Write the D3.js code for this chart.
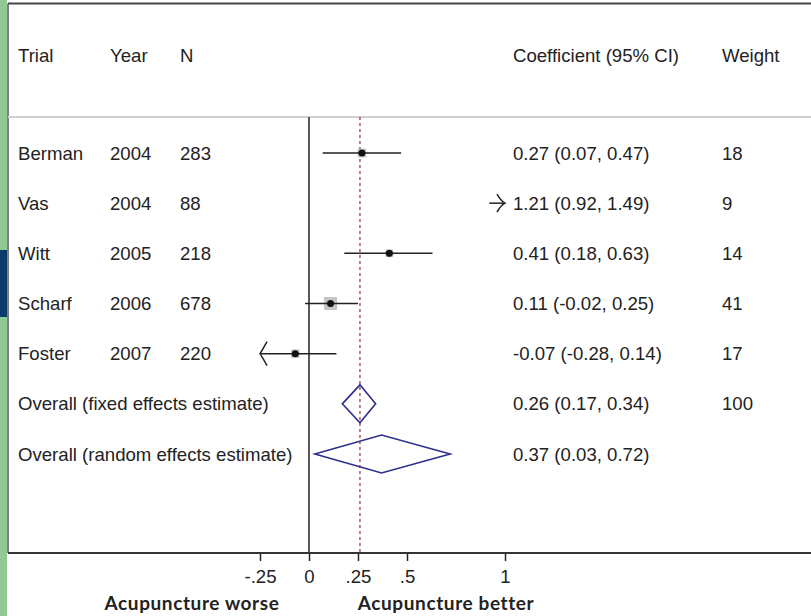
<!DOCTYPE html>
<html>
<head>
<meta charset="utf-8">
<script src="https://cdn.jsdelivr.net/npm/d3@7"></script>
<style>
  html, body { margin: 0; padding: 0; background: #fff; }
  svg { display: block; }
  text { font-family: "Liberation Sans", Arial, sans-serif; fill: #222; }
</style>
</head>
<body>
<div id="chart"></div>
<script>
// study rows
var trials  = ["Berman", "Vas", "Witt", "Scharf", "Foster"];
var years   = [2004, 2004, 2005, 2006, 2007];
var sizes   = [283, 88, 218, 678, 220];
var coef    = [0.27, 1.21, 0.41, 0.11, -0.07];
var lower   = [0.07, 0.92, 0.18, -0.02, -0.28];
var upper   = [0.47, 1.49, 0.63, 0.25, 0.14];
var weights = [18, 9, 14, 41, 17];

// pooled rows
var overallLabels = ["Overall (fixed effects estimate)", "Overall (random effects estimate)"];
var overallCoef   = [0.26, 0.37];
var overallLower  = [0.17, 0.03];
var overallUpper  = [0.34, 0.72];
var overallWeight = ["100", ""];

var headers = ["Trial", "Year", "N", "Coefficient (95% CI)", "Weight"];
var xTicks = [-0.25, 0, 0.25, 0.5, 1];
var clipRange = [-0.25, 1];
var sideLabels = ["Acupuncture worse", "Acupuncture better"];

var width = 811, height = 616;
var fs = "18.6px";

var svg = d3.select("#chart").append("svg")
  .attr("width", width)
  .attr("height", height);

// slide decoration on the left
svg.append("rect").attr("x", 0).attr("y", 0).attr("width", 7).attr("height", height).attr("fill", "#92c893");
svg.append("rect").attr("x", 0).attr("y", 250).attr("width", 7).attr("height", 67).attr("fill", "#0b3a6c");

var x = d3.scaleLinear().domain([0, 1]).range([309, 505]);
var rowIds = d3.range(trials.length + overallLabels.length);
var y = d3.scalePoint().domain(rowIds).range([153, 454]);
var boxSide = d3.scaleSqrt().domain([0, 41]).range([0, 13]);

var axisY = 553, headLineY = 117, topY = 3.5, leftX = 8;

function f2(v) { return v.toFixed(2); }
function ciText(d) { return f2(d.est) + " (" + f2(d.lo) + ", " + f2(d.hi) + ")"; }

// frame
svg.append("line").attr("x1", leftX).attr("x2", width).attr("y1", topY).attr("y2", topY)
  .attr("stroke", "#444").attr("stroke-width", 2);
svg.append("line").attr("x1", leftX).attr("x2", leftX).attr("y1", topY).attr("y2", axisY)
  .attr("stroke", "#555").attr("stroke-width", 1.5);
svg.append("line").attr("x1", leftX).attr("x2", width).attr("y1", headLineY).attr("y2", headLineY)
  .attr("stroke", "#d0d0d0").attr("stroke-width", 2);

// header text
var headX = [18, 110, 180, 513, 722];
svg.selectAll("text.head").data(headers).enter().append("text")
  .attr("class", "head")
  .attr("x", function(d, i) { return headX[i]; })
  .attr("y", 55)
  .attr("dy", "0.35em")
  .style("font-size", fs)
  .text(function(d) { return d; });

// null line and pooled estimate line
svg.append("line").attr("x1", x(0)).attr("x2", x(0)).attr("y1", headLineY).attr("y2", axisY)
  .attr("stroke", "#222").attr("stroke-width", 1.5);
svg.append("line").attr("x1", x(overallCoef[0])).attr("x2", x(overallCoef[0]))
  .attr("y1", headLineY).attr("y2", axisY)
  .attr("stroke", "#9a2a2a").attr("stroke-width", 1.2).attr("stroke-dasharray", "3,3");

// x axis
var xAxis = d3.axisBottom(x)
  .tickValues(xTicks)
  .tickSize(8)
  .tickFormat(function(d) { return String(d).replace("0.", "."); });

var gAxis = svg.append("g").attr("transform", "translate(0," + axisY + ")").call(xAxis);
gAxis.select(".domain").remove();
gAxis.selectAll(".tick line").attr("stroke", "#222").attr("stroke-width", 1.5);
gAxis.selectAll(".tick text")
  .attr("y", 17)
  .style("font-family", "\"Liberation Sans\", Arial, sans-serif")
  .style("font-size", fs)
  .attr("fill", "#222");
svg.append("line").attr("x1", leftX).attr("x2", width).attr("y1", axisY).attr("y2", axisY)
  .attr("stroke", "#333").attr("stroke-width", 2.2);

svg.selectAll("text.side").data(sideLabels).enter().append("text")
  .attr("class", "side")
  .attr("x", function(d, i) { return i === 0 ? 192 : 446; })
  .attr("y", 610)
  .attr("text-anchor", "middle")
  .style("font-family", "Lato, sans-serif")
  .style("font-weight", "bold")
  .style("font-size", "19px")
  .style("letter-spacing", "0.6px")
  .text(function(d) { return d; });

// study rows
var studies = trials.map(function(t, i) {
  return { name: t, year: years[i], n: sizes[i], est: coef[i], lo: lower[i], hi: upper[i], w: weights[i], row: i };
});

var rows = svg.selectAll("g.study").data(studies).enter().append("g")
  .attr("class", "study")
  .attr("transform", function(d) { return "translate(0," + y(d.row) + ")"; });

rows.append("text").attr("x", 18).attr("dy", "0.35em").style("font-size", fs).text(function(d) { return d.name; });
rows.append("text").attr("x", 110).attr("dy", "0.35em").style("font-size", fs).text(function(d) { return d.year; });
rows.append("text").attr("x", 180).attr("dy", "0.35em").style("font-size", fs).text(function(d) { return d.n; });
rows.append("text").attr("x", 513).attr("dy", "0.35em").style("font-size", fs).text(ciText);
rows.append("text").attr("x", 722).attr("dy", "0.35em").style("font-size", fs).text(function(d) { return d.w; });

function clip(v) { return Math.max(clipRange[0], Math.min(clipRange[1], v)); }
function onScale(d) { return d.est >= clipRange[0] && d.est <= clipRange[1]; }

// weight boxes (only when the estimate is on scale)
rows.filter(onScale)
  .append("rect")
  .attr("x", function(d) { return x(d.est) - boxSide(d.w) / 2; })
  .attr("y", function(d) { return -boxSide(d.w) / 2; })
  .attr("width", function(d) { return boxSide(d.w); })
  .attr("height", function(d) { return boxSide(d.w); })
  .attr("fill", "#c4c4c4");

rows.append("line")
  .attr("x1", function(d) { return x(clip(d.lo)); })
  .attr("x2", function(d) { return x(clip(d.hi)); })
  .attr("stroke", "#222").attr("stroke-width", 1.5);

rows.filter(onScale)
  .append("circle")
  .attr("cx", function(d) { return x(d.est); })
  .attr("r", 3.5)
  .attr("fill", "#111");

// arrows where the interval runs off the scale
rows.filter(function(d) { return d.hi > clipRange[1]; })
  .append("path")
  .attr("d", function(d) {
    var t = x(clipRange[1]);
    return "M" + (t - 8) + ",-9 Q" + (t - 4) + ",-2 " + t + ",0 Q" + (t - 4) + ",2 " + (t - 8) + ",9";
  })
  .attr("fill", "none").attr("stroke", "#222").attr("stroke-width", 1.5);

rows.filter(function(d) { return d.lo < clipRange[0]; })
  .append("path")
  .attr("d", function(d) {
    var t = x(clipRange[0]);
    return "M" + (t + 7) + ",-12 Q" + (t + 2) + ",-3 " + t + ",0 Q" + (t + 2) + ",3 " + (t + 7) + ",12";
  })
  .attr("fill", "none").attr("stroke", "#222").attr("stroke-width", 1.5);

// pooled rows
var pooled = overallLabels.map(function(l, i) {
  return { name: l, est: overallCoef[i], lo: overallLower[i], hi: overallUpper[i], w: overallWeight[i], row: trials.length + i };
});

var prow = svg.selectAll("g.pooled").data(pooled).enter().append("g")
  .attr("class", "pooled")
  .attr("transform", function(d) { return "translate(0," + y(d.row) + ")"; });

prow.append("text").attr("x", 18).attr("dy", "0.35em").style("font-size", fs).text(function(d) { return d.name; });
prow.append("text").attr("x", 513).attr("dy", "0.35em").style("font-size", fs).text(ciText);
prow.append("text").attr("x", 722).attr("dy", "0.35em").style("font-size", fs).text(function(d) { return d.w; });

prow.append("path")
  .attr("d", function(d) {
    var h = 19;
    return "M" + x(d.lo) + ",0 L" + x(d.est) + "," + (-h) + " L" + x(d.hi) + ",0 L" + x(d.est) + "," + h + " Z";
  })
  .attr("fill", "none").attr("stroke", "#2e2e8c").attr("stroke-width", 1.6);
</script>
</body>
</html>
